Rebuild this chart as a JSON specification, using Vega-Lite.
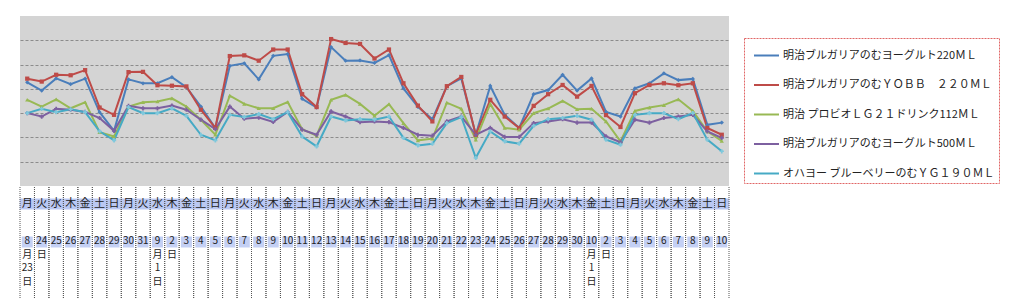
{
  "$schema": "https://vega.github.io/schema/vega-lite/v6.json",
  "padding": {"left": 19, "top": 16, "right": 0, "bottom": 0},
  "background": "white",
  "spacing": 0,
  "config": {"view": {"stroke": null}, "font": "Noto Sans CJK JP"},
  "datasets": {
    "products": [
      {"key": "p1", "name": "明治ブルガリアのむヨーグルト220ＭＬ"},
      {"key": "p2", "name": "明治ブルガリアのむＹＯＢＢ　２２０ＭＬ"},
      {"key": "p3", "name": "明治 プロビオＬＧ２１ドリンク112ＭＬ"},
      {"key": "p4", "name": "明治ブルガリアのむヨーグルト500ＭＬ"},
      {"key": "p5", "name": "オハヨー ブルーベリーのむＹＧ１９０ＭＬ"}
    ],
    "daily": [
      {"date": "2010-08-23", "wd": "月", "dl": "8\n月\n23\n日", "p1": 4.27, "p2": 4.42, "p3": 3.55, "p4": 3.00, "p5": 3.00},
      {"date": "2010-08-24", "wd": "火", "dl": "24\n日", "p1": 3.93, "p2": 4.30, "p3": 3.27, "p4": 2.86, "p5": 3.18},
      {"date": "2010-08-25", "wd": "水", "dl": "25", "p1": 4.43, "p2": 4.58, "p3": 3.57, "p4": 3.18, "p5": 3.04},
      {"date": "2010-08-26", "wd": "木", "dl": "26", "p1": 4.19, "p2": 4.56, "p3": 3.20, "p4": 3.14, "p5": 3.16},
      {"date": "2010-08-27", "wd": "金", "dl": "27", "p1": 4.42, "p2": 4.77, "p3": 3.45, "p4": 3.05, "p5": 3.04},
      {"date": "2010-08-28", "wd": "土", "dl": "28", "p1": 3.04, "p2": 3.23, "p3": 2.22, "p4": 2.80, "p5": 2.25},
      {"date": "2010-08-29", "wd": "日", "dl": "29", "p1": 2.27, "p2": 2.93, "p3": 2.04, "p4": 2.27, "p5": 1.88},
      {"date": "2010-08-30", "wd": "月", "dl": "30", "p1": 4.39, "p2": 4.69, "p3": 3.27, "p4": 3.30, "p5": 3.25},
      {"date": "2010-08-31", "wd": "火", "dl": "31", "p1": 4.23, "p2": 4.70, "p3": 3.45, "p4": 3.20, "p5": 3.00},
      {"date": "2010-09-01", "wd": "水", "dl": "9\n月\n1\n日", "p1": 4.23, "p2": 4.15, "p3": 3.48, "p4": 3.20, "p5": 3.00},
      {"date": "2010-09-02", "wd": "木", "dl": "2\n日", "p1": 4.48, "p2": 4.13, "p3": 3.61, "p4": 3.31, "p5": 3.20},
      {"date": "2010-09-03", "wd": "金", "dl": "3", "p1": 4.07, "p2": 4.10, "p3": 3.27, "p4": 3.14, "p5": 2.89},
      {"date": "2010-09-04", "wd": "土", "dl": "4", "p1": 3.27, "p2": 3.14, "p3": 2.73, "p4": 2.73, "p5": 2.11},
      {"date": "2010-09-05", "wd": "日", "dl": "5", "p1": 2.39, "p2": 2.39, "p3": 2.11, "p4": 2.34, "p5": 1.88},
      {"date": "2010-09-06", "wd": "月", "dl": "6", "p1": 4.95, "p2": 5.35, "p3": 3.72, "p4": 3.27, "p5": 2.93},
      {"date": "2010-09-07", "wd": "火", "dl": "7", "p1": 5.05, "p2": 5.38, "p3": 3.38, "p4": 2.77, "p5": 2.84},
      {"date": "2010-09-08", "wd": "水", "dl": "8", "p1": 4.39, "p2": 5.16, "p3": 3.20, "p4": 2.82, "p5": 2.96},
      {"date": "2010-09-09", "wd": "木", "dl": "9", "p1": 5.36, "p2": 5.62, "p3": 3.20, "p4": 2.64, "p5": 2.75},
      {"date": "2010-09-10", "wd": "金", "dl": "10", "p1": 5.43, "p2": 5.62, "p3": 3.46, "p4": 3.05, "p5": 3.04},
      {"date": "2010-09-11", "wd": "土", "dl": "11", "p1": 3.59, "p2": 3.78, "p3": 2.34, "p4": 2.32, "p5": 2.04},
      {"date": "2010-09-12", "wd": "日", "dl": "12", "p1": 3.23, "p2": 3.25, "p3": 2.07, "p4": 2.11, "p5": 1.63},
      {"date": "2010-09-13", "wd": "月", "dl": "13", "p1": 5.72, "p2": 6.05, "p3": 3.55, "p4": 3.07, "p5": 2.86},
      {"date": "2010-09-14", "wd": "火", "dl": "14", "p1": 5.16, "p2": 5.89, "p3": 3.75, "p4": 2.86, "p5": 2.70},
      {"date": "2010-09-15", "wd": "水", "dl": "15", "p1": 5.17, "p2": 5.85, "p3": 3.38, "p4": 2.63, "p5": 2.75},
      {"date": "2010-09-16", "wd": "木", "dl": "16", "p1": 5.07, "p2": 5.25, "p3": 2.89, "p4": 2.66, "p5": 2.73},
      {"date": "2010-09-17", "wd": "金", "dl": "17", "p1": 5.39, "p2": 5.62, "p3": 3.37, "p4": 2.63, "p5": 2.86},
      {"date": "2010-09-18", "wd": "土", "dl": "18", "p1": 4.02, "p2": 4.23, "p3": 2.59, "p4": 2.39, "p5": 1.98},
      {"date": "2010-09-19", "wd": "日", "dl": "19", "p1": 3.26, "p2": 3.31, "p3": 1.88, "p4": 2.11, "p5": 1.67},
      {"date": "2010-09-20", "wd": "月", "dl": "20", "p1": 2.75, "p2": 2.66, "p3": 1.95, "p4": 2.07, "p5": 1.74},
      {"date": "2010-09-21", "wd": "火", "dl": "21", "p1": 4.11, "p2": 4.11, "p3": 3.43, "p4": 2.66, "p5": 2.59},
      {"date": "2010-09-22", "wd": "水", "dl": "22", "p1": 4.43, "p2": 4.49, "p3": 3.18, "p4": 2.86, "p5": 2.84},
      {"date": "2010-09-23", "wd": "木", "dl": "23", "p1": 2.11, "p2": 2.11, "p3": 1.91, "p4": 2.11, "p5": 1.16},
      {"date": "2010-09-24", "wd": "金", "dl": "24", "p1": 4.12, "p2": 3.55, "p3": 3.38, "p4": 2.39, "p5": 2.25},
      {"date": "2010-09-25", "wd": "土", "dl": "25", "p1": 2.93, "p2": 2.86, "p3": 2.39, "p4": 2.02, "p5": 1.84},
      {"date": "2010-09-26", "wd": "日", "dl": "26", "p1": 2.39, "p2": 2.39, "p3": 2.32, "p4": 2.02, "p5": 1.74},
      {"date": "2010-09-27", "wd": "月", "dl": "27", "p1": 3.78, "p2": 3.30, "p3": 3.00, "p4": 2.59, "p5": 2.48},
      {"date": "2010-09-28", "wd": "火", "dl": "28", "p1": 3.95, "p2": 3.78, "p3": 3.19, "p4": 2.66, "p5": 2.75},
      {"date": "2010-09-29", "wd": "水", "dl": "29", "p1": 4.58, "p2": 4.16, "p3": 3.50, "p4": 2.75, "p5": 2.80},
      {"date": "2010-09-30", "wd": "木", "dl": "30", "p1": 3.93, "p2": 3.68, "p3": 3.16, "p4": 2.61, "p5": 2.89},
      {"date": "2010-10-01", "wd": "金", "dl": "10\n月\n1\n日", "p1": 4.43, "p2": 4.12, "p3": 3.18, "p4": 2.61, "p5": 2.73},
      {"date": "2010-10-02", "wd": "土", "dl": "2\n日", "p1": 3.05, "p2": 2.92, "p3": 2.66, "p4": 2.04, "p5": 1.91},
      {"date": "2010-10-03", "wd": "日", "dl": "3", "p1": 2.86, "p2": 2.43, "p3": 1.84, "p4": 1.80, "p5": 1.70},
      {"date": "2010-10-04", "wd": "月", "dl": "4", "p1": 4.02, "p2": 3.82, "p3": 3.09, "p4": 2.73, "p5": 2.93},
      {"date": "2010-10-05", "wd": "火", "dl": "5", "p1": 4.23, "p2": 4.16, "p3": 3.23, "p4": 2.61, "p5": 3.00},
      {"date": "2010-10-06", "wd": "水", "dl": "6", "p1": 4.64, "p2": 4.23, "p3": 3.33, "p4": 2.80, "p5": 3.00},
      {"date": "2010-10-07", "wd": "木", "dl": "7", "p1": 4.36, "p2": 4.15, "p3": 3.57, "p4": 2.86, "p5": 2.75},
      {"date": "2010-10-08", "wd": "金", "dl": "8", "p1": 4.41, "p2": 4.23, "p3": 3.09, "p4": 2.93, "p5": 3.00},
      {"date": "2010-10-09", "wd": "土", "dl": "9", "p1": 2.52, "p2": 2.39, "p3": 2.25, "p4": 2.25, "p5": 1.91},
      {"date": "2010-10-10", "wd": "日", "dl": "10", "p1": 2.61, "p2": 2.11, "p3": 1.86, "p4": 1.98, "p5": 1.43}
    ]
  },
  "vconcat": [
    {
      "width": 709,
      "height": 170,
      "view": {"fill": "#d4d4d4", "stroke": null},
      "data": {"name": "daily"},
      "transform": [
        {"fold": ["p1", "p2", "p3", "p4", "p5"], "as": ["key", "value"]},
        {"lookup": "key", "from": {"data": {"name": "products"}, "key": "key", "fields": ["name"]}}
      ],
      "encoding": {
        "x": {"field": "date", "type": "ordinal", "scale": {"type": "band", "paddingInner": 0, "paddingOuter": 0}, "axis": null},
        "y": {
          "field": "value", "type": "quantitative",
          "scale": {"domain": [0, 7], "nice": false, "zero": false},
          "axis": {"values": [1, 2, 3, 4, 5, 6], "labels": false, "ticks": false, "domain": false, "title": null, "grid": true, "gridColor": "#8c8c8c", "gridDash": [3, 2], "gridWidth": 1}
        }
      },
      "layer": [
        {
          "mark": {"type": "line", "strokeWidth": 2},
          "encoding": {
            "color": {
              "field": "name", "type": "nominal",
              "scale": {
                "domain": ["明治ブルガリアのむヨーグルト220ＭＬ", "明治ブルガリアのむＹＯＢＢ　２２０ＭＬ", "明治 プロビオＬＧ２１ドリンク112ＭＬ", "明治ブルガリアのむヨーグルト500ＭＬ", "オハヨー ブルーベリーのむＹＧ１９０ＭＬ"],
                "range": ["#4a7ebb", "#be4b48", "#98b954", "#7d60a0", "#46aac5"]
              },
              "legend": {
                "orient": "none", "legendX": 724, "legendY": 22, "title": null,
                "symbolType": "stroke", "symbolSize": 625, "symbolStrokeWidth": 2, "symbolOffset": 5,
                "labelFont": "Noto Sans CJK JP", "labelFontSize": 11, "labelColor": "#222222",
                "labelLimit": 320, "labelOffset": 3, "rowPadding": 10.5, "padding": 4,
                "strokeColor": "#e06666", "fillColor": "white",
                "encode": {"legend": {"update": {"strokeDash": {"value": [2, 1]}}}}
              }
            }
          }
        },
        {
          "mark": {"type": "point", "filled": true, "size": 18, "opacity": 1},
          "encoding": {
            "fill": {
              "field": "key", "type": "nominal",
              "scale": {"domain": ["p1", "p2", "p3", "p4", "p5"], "range": ["#4a7ebb", "#be4b48", "#98b954", "#7d60a0", "#7fc8dc"]},
              "legend": null
            },
            "shape": {
              "field": "key", "type": "nominal",
              "scale": {"domain": ["p1", "p2", "p3", "p4", "p5"], "range": ["diamond", "square", "triangle-up", "cross", "cross"]},
              "legend": null
            }
          }
        }
      ]
    },
    {
      "width": 709,
      "height": 112,
      "data": {"name": "daily"},
      "encoding": {
        "x": {"field": "date", "type": "ordinal", "scale": {"type": "band", "paddingInner": 0, "paddingOuter": 0}, "axis": null}
      },
      "layer": [
        {
          "mark": {"type": "tick", "orient": "horizontal", "size": 15, "thickness": 11, "color": "#bac8f2", "opacity": 1},
          "encoding": {"y": {"datum": "w", "type": "nominal", "scale": {"type": "point", "domain": ["w", "d"], "range": [17, 49], "padding": 0}, "axis": null}}
        },
        {
          "mark": {"type": "tick", "orient": "horizontal", "size": 11, "thickness": 11, "yOffset": 6, "color": "#c4d0f4", "opacity": 1},
          "encoding": {"y": {"datum": "d", "type": "nominal", "scale": {"type": "point", "domain": ["w", "d"], "range": [17, 49], "padding": 0}, "axis": null}}
        },
        {
          "mark": {"type": "rule", "color": "#555555", "strokeDash": [1, 1], "strokeWidth": 1},
          "encoding": {"x": {"field": "date", "type": "ordinal", "bandPosition": 0}}
        },
        {
          "mark": {"type": "rule", "color": "#555555", "strokeDash": [1, 1], "strokeWidth": 1},
          "encoding": {"x": {"field": "date", "type": "ordinal", "bandPosition": 1}}
        },
        {
          "mark": {"type": "text", "fontSize": 11, "color": "#222222", "baseline": "middle"},
          "encoding": {
            "y": {"datum": "w", "type": "nominal", "scale": {"type": "point", "domain": ["w", "d"], "range": [17, 49], "padding": 0}, "axis": null},
            "text": {"field": "wd"}
          }
        },
        {
          "mark": {"type": "text", "fontSize": 10, "color": "#222222", "baseline": "top", "lineBreak": "\n", "lineHeight": 13.5},
          "encoding": {
            "y": {"datum": "d", "type": "nominal", "scale": {"type": "point", "domain": ["w", "d"], "range": [17, 49], "padding": 0}, "axis": null},
            "text": {"field": "dl"}
          }
        }
      ]
    }
  ]
}
